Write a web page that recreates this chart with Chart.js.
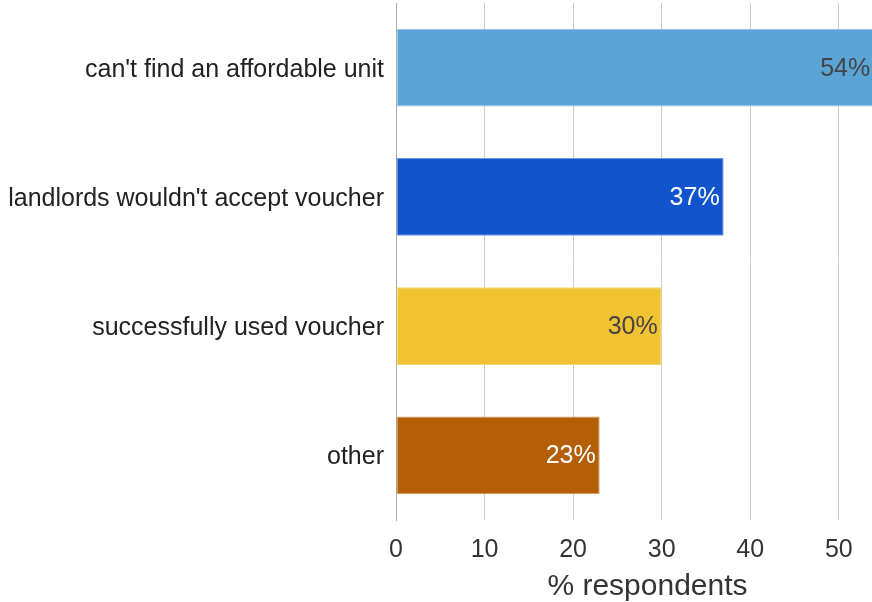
<!DOCTYPE html>
<html lang="en">
<head>
    <meta charset="UTF-8">
    <title>Voucher outcomes</title>
    <script src="https://cdn.jsdelivr.net/npm/chart.js"></script>
    <style>
        html, body { margin: 0; padding: 0; background: #fff; overflow: hidden; }
        #chart { display: block; }
    </style>
</head>
<body>
    <canvas id="chart" width="899" height="602" style="width: 899px; height: 602px;"></canvas>
    <script>
        const categories = [
            "can't find an affordable unit",
            "landlords wouldn't accept voucher",
            "successfully used voucher",
            "other"
        ];
        const values = [54, 37, 30, 23];
        const xTicks = [0, 10, 20, 30, 40, 50];
        const barColors = ['#5aa5d6', '#1155cc', '#f1c232', '#b45f06'];
        const borderColors = ['#9cc8e8', '#6f95dc', '#f5d681', '#cf9a66'];
        const labelColors = ['#444444', '#ffffff', '#444444', '#ffffff'];

        const FONT = "'Liberation Sans', Arial, sans-serif";

        // value labels drawn inside the bar end
        const barLabels = {
            id: 'barLabels',
            afterDatasetsDraw(chart) {
                const ctx = chart.ctx;
                const area = chart.chartArea;
                const meta = chart.getDatasetMeta(0);
                ctx.save();
                ctx.font = '25px ' + FONT;
                ctx.textAlign = 'right';
                ctx.textBaseline = 'middle';
                meta.data.forEach((bar, i) => {
                    const x = Math.min(bar.x, area.right) - 4;
                    ctx.fillStyle = labelColors[i];
                    ctx.fillText(values[i] + '%', x, bar.y + 1);
                });
                ctx.restore();
            }
        };

        new Chart(document.getElementById('chart'), {
            type: 'bar',
            data: {
                labels: categories,
                datasets: [{
                    data: values,
                    backgroundColor: barColors,
                    borderColor: borderColors,
                    borderWidth: 1,
                    borderSkipped: false,
                    categoryPercentage: 0.6,
                    barPercentage: 1
                }]
            },
            options: {
                indexAxis: 'y',
                responsive: false,
                animation: false,
                layout: { padding: { top: 3, right: 0, left: 0, bottom: 0 } },
                plugins: {
                    legend: { display: false },
                    tooltip: { enabled: false }
                },
                scales: {
                    x: {
                        min: 0,
                        max: 56.8,
                        afterBuildTicks(scale) {
                            scale.ticks = xTicks.map(v => ({ value: v }));
                        },
                        ticks: {
                            color: '#333333',
                            padding: 15,
                            font: { family: FONT, size: 25 }
                        },
                        grid: { color: '#cccccc', lineWidth: 1, drawTicks: false },
                        border: { display: false },
                        title: {
                            display: true,
                            text: '% respondents',
                            color: '#333333',
                            padding: { top: 4, bottom: -3 },
                            font: { family: FONT, size: 30 }
                        },
                        afterFit(scale) {
                            scale.height = 82;
                            scale.paddingLeft = 0;
                            scale.paddingRight = 0;
                        }
                    },
                    y: {
                        ticks: {
                            color: '#222222',
                            padding: 4,
                            labelOffset: 2,
                            font: { family: FONT, size: 25 }
                        },
                        grid: { display: false },
                        border: { display: true, color: '#aaaaaa' },
                        afterFit(scale) {
                            scale.width = 396;
                            scale.paddingTop = 0;
                            scale.paddingBottom = 0;
                        }
                    }
                }
            },
            plugins: [barLabels]
        });
    </script>
</body>
</html>
